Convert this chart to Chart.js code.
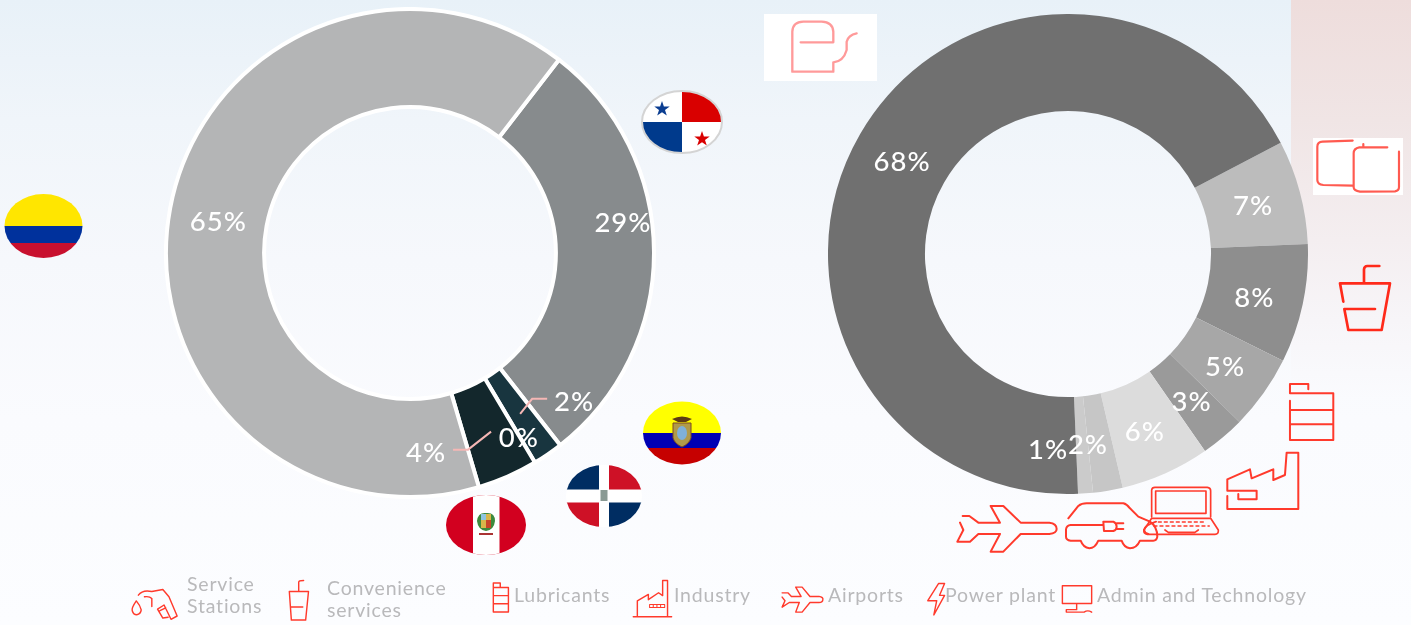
<!DOCTYPE html>
<html><head><meta charset="utf-8">
<script src="https://cdn.jsdelivr.net/npm/chart.js@4"></script>
<style>
html,body{margin:0;padding:0;width:1411px;height:625px;overflow:hidden}
body{position:relative;background:linear-gradient(180deg,#e8f1f8 0,#f0f5fa 120px,#f6f8fc 260px,#fafbfe 420px,#fcfdff 625px);font-family:Lato,sans-serif}
#panel{position:absolute;left:1291px;top:0;width:120px;height:400px;background:linear-gradient(180deg,#eedddc 0,#f0e5e5 120px,#f4eef0 240px,#f7f5f8 320px,#fafbfe 400px)}
canvas{position:absolute}
#c1{left:164px;top:7px}
#c2{left:828px;top:14px}
svg{position:absolute;left:0;top:0}
.lg{position:absolute;color:#b9b9bb;font-size:19.5px;line-height:22px;letter-spacing:.8px;white-space:nowrap}
</style></head><body>
<div id="panel"></div>
<canvas id="c1" width="492" height="492"></canvas>
<canvas id="c2" width="480" height="480"></canvas>
<svg width="1411" height="625" viewBox="0 0 1411 625" fill="none">
<defs>
<clipPath id="fCo"><ellipse cx="43.500" cy="226" rx="39" ry="32"/></clipPath>
<clipPath id="fPa"><ellipse cx="682" cy="122" rx="40" ry="31"/></clipPath>
<clipPath id="fEc"><ellipse cx="682" cy="433" rx="39" ry="31.500"/></clipPath>
<clipPath id="fDo"><ellipse cx="604" cy="496" rx="38" ry="31"/></clipPath>
<clipPath id="fPe"><ellipse cx="486" cy="525" rx="40" ry="30"/></clipPath>
</defs>
<g clip-path="url(#fCo)"><rect x="0" y="190" width="90" height="36" fill="#ffe600"/><rect x="0" y="226" width="90" height="17" fill="#00319c"/><rect x="0" y="243" width="90" height="20" fill="#c8102e"/></g>
<g clip-path="url(#fPa)"><rect x="640" y="90" width="84" height="64" fill="#fff"/><rect x="682" y="90" width="42" height="32" fill="#d90000"/><rect x="640" y="122" width="42" height="32" fill="#003a8c"/>
<path d="M662 101l1.900 5.500h5.800l-4.700 3.500 1.800 5.600-4.800-3.400-4.800 3.400 1.800-5.600-4.700-3.500h5.800z" fill="#0b3d91"/>
<path d="M702 131l1.900 5.500h5.800l-4.700 3.500 1.800 5.600-4.800-3.400-4.800 3.400 1.800-5.600-4.700-3.500h5.800z" fill="#d90000"/></g>
<ellipse cx="682" cy="122" rx="40" ry="31" stroke="#d4d4d4" stroke-width="2"/>
<g clip-path="url(#fEc)"><rect x="640" y="400" width="84" height="33" fill="#ffff00"/><rect x="640" y="433" width="84" height="15" fill="#0000b4"/><rect x="640" y="448" width="84" height="18" fill="#c60000"/>
<path d="M672 419q10-5 20 0l-6 3h-8z" fill="#5c3a14"/><path d="M673 423h18v15q-2 6-9 9-7-3-9-9z" fill="#b09a4a" stroke="#7a4a20"/><ellipse cx="682" cy="433" rx="5" ry="7" fill="#7fb0d8"/></g>
<g clip-path="url(#fDo)"><rect x="560" y="460" width="88" height="72" fill="#fff"/><rect x="560" y="460" width="39" height="29.500" fill="#002d62"/><rect x="609" y="460" width="39" height="29.500" fill="#ce1126"/><rect x="560" y="502.500" width="39" height="30" fill="#ce1126"/><rect x="609" y="502.500" width="39" height="30" fill="#002d62"/><rect x="600.500" y="490" width="7" height="11" fill="#8a9a94"/></g>
<g clip-path="url(#fPe)"><rect x="440" y="490" width="92" height="70" fill="#d2001f"/><rect x="473" y="490" width="26.500" height="70" fill="#fff"/>
<path d="M477 521q1-9 9-8 9-1 9 8-1 9-9 10-8-1-9-10z" fill="#3d8a3d"/><rect x="481" y="514" width="10" height="14" fill="#d9b64a"/><rect x="481" y="514" width="5" height="6" fill="#8ec5e0"/><rect x="486" y="520" width="5" height="8" fill="#c8452a"/><rect x="479" y="533" width="14" height="2" fill="#a33"/></g>

<rect x="764" y="14" width="113" height="67" fill="#fff"/>
<g transform="translate(630,0) scale(.3333)" stroke="#ff9a9a" stroke-width="7" stroke-linejoin="round" stroke-linecap="round">
<path d="M512 127H610V95Q608 66 575 65H520Q488 66 487 95V215H610V187Q640 185 650 150V125Q655 105 680 100"/></g>
<rect x="1313" y="138" width="90" height="57" fill="#fff"/>
<g transform="translate(1280,0) scale(.3333)" stroke="#ff5a50" stroke-width="6.500" stroke-linecap="round" stroke-linejoin="round">
<path d="M218 422L128 425Q112 426 112 440V540Q112 553 130 555L218 557"/><path d="M322 442H238Q221 445 221 460V562Q222 572 240 575L345 574Q357 572 357 562V455M250 432V441"/></g>
<g stroke="#ff2a1a" stroke-width="2.500" stroke-linejoin="round" stroke-linecap="round">
<path transform="translate(1280,0) scale(.3333)" stroke-width="8" d="M190 905L180 850H330L305 990H205L193 927H285M252 850V808Q253 798 262 798H298"/></g>
<g transform="translate(950,380) scale(.3333)" stroke="#ff3a2c" stroke-width="6" stroke-linejoin="round" stroke-linecap="round">
<path d="M1075 28V12H1020V40H1150V180H1020V62M1020 90H1150M1020 133H1150"/>
<path d="M832 348V387H1045V218H1010L1005 285L970 300V268L905 295L900 268L832 298V332H920V358H865V342"/>
<path stroke-width="5" d="M605 410V330Q606 322 615 322H772Q782 323 782 332V410M617 333H768V400H617ZM605 415H782L805 450Q806 463 795 463H592Q580 462 582 450ZM645 450L655 457H735L745 450"/>
<path stroke-width="4" stroke-dasharray="9 9" d="M625 426H765M612 438H778"/>
<path d="M355 415L385 378Q395 370 410 370H520Q530 372 540 385L565 410L600 425Q622 440 622 470Q620 482 610 482H570Q560 505 540 505Q522 503 515 482H445Q435 505 418 505Q400 503 392 482H362Q348 480 348 470V448Q350 436 362 435H460M460 425H490Q500 430 500 440Q500 450 490 453H462ZM500 430H520M500 447H520M618 425Q585 435 582 450Q584 460 595 462"/>
<path d="M38 408H58L85 428H150L122 378H160L212 428H298Q320 430 320 447Q320 460 298 462H212L160 515H122L150 462H85L60 485H22L40 450L30 428"/></g>

<g transform="translate(120,565) scale(.408)" stroke="#ff3a2c" stroke-width="3.500" stroke-linejoin="round" stroke-linecap="round">
<path d="M40 88Q28 105 30 112Q33 122 41 122Q51 120 52 110Q50 100 40 88Z"/>
<path d="M45 74Q55 60 78 65L105 60L120 78L140 125L125 133L108 98L92 108L105 130L118 128M78 102V82Q72 76 60 78M98 112L112 105"/>
<path d="M415 65H462L455 135H420ZM418 103H448M438 65V42Q438 38 450 38"/>
<path d="M915 55V44H932V55M915 55H952V115H915ZM915 75H952M915 95H952"/>
<path d="M1258 127H1352M1268 127V88L1295 72V85L1320 68L1330 75V38H1342V127"/><path stroke-width="2.500" d="M1298 97H1335V104H1298ZM1307 97V104M1316 97V104M1325 97V104"/>
</g>
<g transform="translate(760,565) scale(.357)" stroke="#ff3a2c" stroke-width="4" stroke-linejoin="round" stroke-linecap="round">
<path d="M62 78H78L88 88H115L100 62H118L140 88H165Q178 90 176 97Q176 104 165 105H140L118 132H100L110 105H82L62 118L70 100L62 90"/>
<path d="M500 52H517L503 85H517L487 140L495 100H470Z"/>
<path d="M847 58H929V108H847ZM887 108V125H858V132H908Q918 125 929 132"/>
</g>
</svg>
<div class="lg" style="left:187px;top:573px">Service<br>Stations</div>
<div class="lg" style="left:327px;top:577px">Convenience<br>services</div>
<div class="lg" style="left:514px;top:584px">Lubricants</div>
<div class="lg" style="left:674px;top:584px">Industry</div>
<div class="lg" style="left:828px;top:584px">Airports</div>
<div class="lg" style="left:945px;top:584px">Power plant</div>
<div class="lg" style="left:1097px;top:584px">Admin and Technology</div>
<script>
const countries = ['Panama','Ecuador','Dominican Republic','Peru','Colombia'];
const countryShares = [29, 2, 0, 4, 65];
const countryColors = ['#878b8d','#18353f','#152b31','#13272c','#b4b5b6'];
const countryLabelOffsets = [[18,-29],[54,-11.5],[9,18],[-62,21],[0,5]];
const countryLeaders = {1:[[0,0],[12,-15],[27,-15]],3:[[3,0],[-20,18],[-35,18]]};

const segments = ['Convenience services','Lubricants','Industry','Airports','Power plant','Admin and Technology','Other','Service Stations'];
const segmentShares = [7, 8, 5, 3, 6, 2, 1, 68];
const segmentColors = ['#bcbcbc','#8e8e8e','#a7a7a7','#9a9a9a','#dcdcdc','#c6c6c6','#cbcbcb','#707070'];
const segmentLabelOffsets = [[0,2],[-1,4],[1,2],[0,2],[-1,3],[-12,2],[-34,5],[0,4]];

const pctLabels = {
  id:'pctLabels',
  afterDatasetsDraw(chart,args,o){
    const ctx=chart.ctx, arcs=chart.getDatasetMeta(0).data, vals=chart.data.datasets[0].data;
    ctx.save();
    ctx.font='500 27.5px Lato, sans-serif';
    ctx.letterSpacing='1px';
    ctx.textAlign='center'; ctx.textBaseline='middle';
    arcs.forEach((a,i)=>{
      const p=a.getCenterPoint();
      const lead=o.leaders&&o.leaders[i];
      if(lead){
        ctx.beginPath(); ctx.strokeStyle='#f5b7b5'; ctx.lineWidth=2;
        lead.forEach((d,j)=>{ j?ctx.lineTo(p.x+d[0],p.y+d[1]):ctx.moveTo(p.x+d[0],p.y+d[1]); });
        ctx.stroke();
      }
    });
    arcs.forEach((a,i)=>{
      const p=a.getCenterPoint(), d=o.offsets[i];
      ctx.fillStyle='#ffffff';
      ctx.fillText(vals[i]+'%',p.x+d[0],p.y+d[1]);
    });
    ctx.restore();
  }
};
function donut(id,labels,values,colors,rotation,cutout,borderWidth,offsets,leaders){
  return new Chart(document.getElementById(id),{
    type:'doughnut',
    plugins:[pctLabels],
    data:{labels,datasets:[{data:values,backgroundColor:colors,borderColor:'#ffffff',borderWidth,borderAlign:'center'}]},
    options:{responsive:false,animation:false,rotation,cutout,layout:{padding:0},
      plugins:{legend:{display:false},tooltip:{enabled:false},pctLabels:{offsets,leaders}}}
  });
}
donut('c1',countries,countryShares,countryColors,37.6,'59.8%',4,countryLabelOffsets,countryLeaders);
donut('c2',segments,segmentShares,segmentColors,62.4,'59.6%',0,segmentLabelOffsets,null);
</script>
</body></html>
